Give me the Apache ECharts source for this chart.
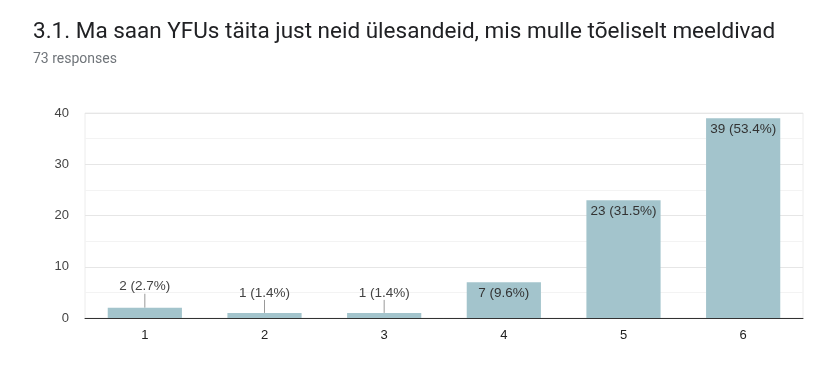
<!DOCTYPE html>
<html>
<head>
<meta charset="utf-8">
<script src="https://cdn.jsdelivr.net/npm/echarts@6/dist/echarts.min.js"></script>
<style>
html,body{margin:0;padding:0;background:#fff;}
#c{width:825px;height:374px;}
</style>
</head>
<body>
<div id="c"></div>
<script>
const titleText = "3.1. Ma saan YFUs täita just neid ülesandeid, mis mulle tõeliselt meeldivad";
const subtitleText = "73 responses";
const categories = ["1", "2", "3", "4", "5", "6"];
const counts = [2, 1, 1, 7, 23, 39];
const percents = ["2.7%", "1.4%", "1.4%", "9.6%", "31.5%", "53.4%"];
const yTicks = [0, 10, 20, 30, 40];

const outsideLift = [11, 10, 10, 0, 0, 0];

const chart = echarts.init(document.getElementById('c'), null, {renderer: 'canvas'});
chart.setOption({
  animation: false,
  backgroundColor: '#fff',
  title: {
    text: titleText,
    subtext: subtitleText,
    left: 28,
    top: 16,
    itemGap: 8,
    textStyle: {fontFamily: 'Roboto', fontSize: 22.5, fontWeight: 'normal', color: '#202124'},
    subtextStyle: {fontFamily: 'Roboto', fontSize: 14, color: '#70757a'}
  },
  grid: {left: 85, right: 22, top: 113, bottom: 56, show: true, borderColor: '#ececec', borderWidth: 1},
  xAxis: {
    type: 'category',
    data: categories,
    axisLine: {lineStyle: {color: '#333', width: 1}},
    axisTick: {show: false},
    axisLabel: {fontFamily: 'Arial, Liberation Sans', fontSize: 13, color: '#222', margin: 11}
  },
  yAxis: {
    type: 'value',
    min: yTicks[0],
    max: yTicks[yTicks.length - 1],
    interval: 10,
    axisLine: {show: false},
    axisTick: {show: false},
    axisLabel: {fontFamily: 'Arial, Liberation Sans', fontSize: 13, color: '#444', margin: 16},
    splitLine: {lineStyle: {color: '#e6e6e6'}},
    minorTick: {show: false, splitNumber: 2},
    minorSplitLine: {show: true, lineStyle: {color: '#f3f3f3'}}
  },
  series: [{
    type: 'bar',
    barWidth: '62%',
    itemStyle: {color: '#a3c4cc'},
    data: counts.map((v, i) => {
      const outside = v < 5;
      return {
        value: v,
        label: {
          show: true,
          position: outside ? 'top' : 'insideTop',
          distance: outside ? 3 : 4,
          formatter: v + ' (' + percents[i] + ')',
          fontFamily: 'Arial, Liberation Sans',
          fontSize: 13.5,
          color: outside ? '#444' : '#333'
        },
        labelLine: {show: outside, lineStyle: {color: '#999', width: 1}}
      };
    }),
    labelLayout: function (p) {
      const d = outsideLift[p.dataIndex];
      return d ? {dy: -d} : {};
    }
  }]
});
</script>
</body>
</html>
